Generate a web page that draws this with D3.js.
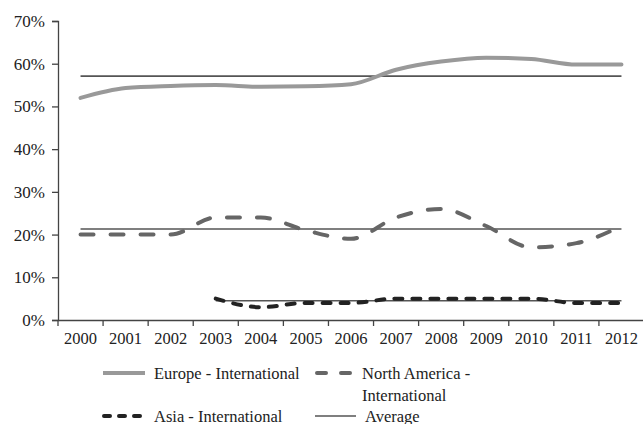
<!DOCTYPE html>
<html><head><meta charset="utf-8">
<script src="https://cdn.jsdelivr.net/npm/d3@7"></script>
<style>body{margin:0;background:#fff}svg text{font-family:"Liberation Serif","DejaVu Serif","Times New Roman",Times,serif !important;fill:#222}</style>
</head><body><svg id="c" width="643" height="424"></svg>
<script>
const years = ["2000","2001","2002","2003","2004","2005","2006","2007","2008","2009","2010","2011","2012"];
const europe = [52.0,54.3,54.8,55.0,54.6,54.7,55.2,58.6,60.5,61.4,61.1,59.8,59.8];
const northAmerica = [20,20,20,24,24,21,19,24,26,22,17,18,22];
const asia = [null,null,null,5,3,4,4,5,5,5,5,4,4];
const avgEurope = 57.1, avgNA = 21.3, avgAsia = 4.5;
const yTicks = [0,10,20,30,40,50,60,70];

const svg = d3.select("#c");
const x = d3.scaleBand().domain(years).range([58,644]);
const y = d3.scaleLinear().domain([0,70]).range([320,21]);
const cx = d => x(d)+x.bandwidth()/2;

const ya = svg.append("g").attr("transform","translate(58,0)")
  .call(d3.axisLeft(y).tickValues(yTicks).tickSize(6).tickPadding(7).tickFormat(d=>d+"%"));
ya.attr("font-family",null);
ya.select(".domain").attr("stroke","#444").attr("stroke-width",1.3);
ya.selectAll(".tick line").attr("stroke","#444").attr("stroke-width",1.3);
ya.selectAll("text").attr("font-size",17).attr("fill","#222");

const xa = svg.append("g").attr("transform","translate(0,320)")
  .call(d3.axisBottom(x).tickSize(0).tickPadding(12));
xa.attr("font-family",null);
xa.select(".domain").attr("stroke","#444").attr("stroke-width",1.3);
xa.selectAll("text").attr("font-size",16.5).attr("fill","#222");
svg.append("g").selectAll("line").data(years.concat(["end"])).join("line")
  .attr("x1",(d,i)=>58+i*x.bandwidth()).attr("x2",(d,i)=>58+i*x.bandwidth())
  .attr("y1",320).attr("y2",326).attr("stroke","#444").attr("stroke-width",1.3);

function avgLine(val, from){
  svg.append("line").attr("x1",cx(years[from])).attr("x2",cx(years[years.length-1]))
    .attr("y1",y(val)).attr("y2",y(val)).attr("stroke","#555").attr("stroke-width",1.6);
}
avgLine(avgEurope,0); avgLine(avgNA,0); avgLine(avgAsia,3);

const line = d3.line().x(d=>cx(d.k)).y(d=>y(d.v)).curve(d3.curveMonotoneX);
const mk = arr => years.map((k,i)=>({k,v:arr[i]})).filter(d=>d.v!=null);

svg.append("path").attr("d",line(mk(europe))).attr("fill","none").attr("stroke","#999")
  .attr("stroke-width",4).attr("stroke-linecap","round");
svg.append("path").attr("d",line(mk(northAmerica))).attr("fill","none").attr("stroke","#666")
  .attr("stroke-width",4).attr("stroke-linecap","round").attr("stroke-dasharray","13,17");
svg.append("path").attr("d",line(mk(asia))).attr("fill","none").attr("stroke","#222")
  .attr("stroke-width",4).attr("stroke-linecap","round").attr("stroke-dasharray","8,10");

const lg = svg.append("g");
function legItem(x1,x2,yy,stroke,w,dash,label){
  lg.append("line").attr("x1",x1).attr("x2",x2).attr("y1",yy).attr("y2",yy)
    .attr("stroke",stroke).attr("stroke-width",w).attr("stroke-linecap",dash?"round":"butt")
    .attr("stroke-dasharray",dash||null);
  const t = lg.append("text").attr("x",x2+9).attr("y",yy+5.5).attr("font-size",16.5);
  label.forEach((s,i)=>t.append("tspan").attr("x",x2+9).attr("dy",i?22:0).text(s));
}
legItem(103,145,373,"#999",4,null,["Europe - International"]);
legItem(317,353,373,"#666",4,"9,15",["North America -","International"]);
legItem(104,145,416,"#222",4,"6,9",["Asia - International"]);
legItem(315,356,416,"#555",1.6,null,["Average"]);
</script></body></html>
